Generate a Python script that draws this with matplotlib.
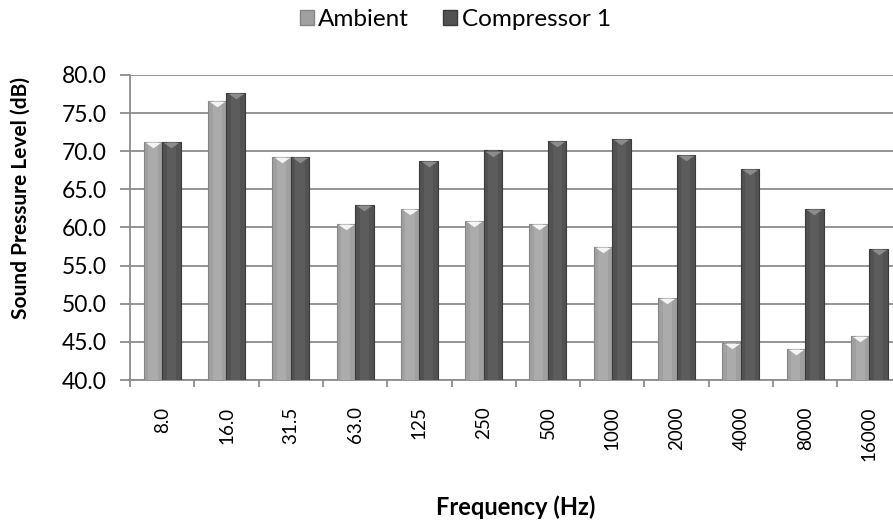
import numpy as np
import matplotlib.pyplot as plt
from matplotlib.patches import Patch

plt.rcParams['font.family'] = ['Lato', 'DejaVu Sans']

freq_labels = ['8.0', '16.0', '31.5', '63.0', '125', '250', '500',
               '1000', '2000', '4000', '8000', '16000']
ambient = [71.2, 76.6, 69.2, 60.4, 62.4, 60.8, 60.5, 57.5, 50.8, 44.9, 44.1, 45.8]
compressor = [71.2, 77.7, 69.3, 62.9, 68.7, 70.1, 71.4, 71.6, 69.5, 67.7, 62.4, 57.2]

AMB_COLOR = '#a0a0a0'
CMP_COLOR = '#525252'
GRID_COLOR = '#8c8c8c'

fig = plt.figure(figsize=(8.93, 5.24), dpi=100)
# plot area runs slightly past the right edge, as in the reference
ax = fig.add_axes([0.1456, 0.2748, 0.8640, 0.5821])

x = np.arange(len(freq_labels))
w = 0.288
amb = np.array(ambient)
cmp_ = np.array(compressor)
ax.bar(x - w / 2, amb - 40, w, bottom=40, color=AMB_COLOR,
       edgecolor='#858585', linewidth=0.8, zorder=3)
ax.bar(x + w / 2, cmp_ - 40, w, bottom=40, color=CMP_COLOR,
       edgecolor='#3a3a3a', linewidth=0.8, zorder=3)
# soft highlight down the middle of each bar
ax.bar(x - w / 2, amb - 40, w * 0.5, bottom=40, color='#ababab',
       linewidth=0, zorder=3.5)
ax.bar(x + w / 2, cmp_ - 40, w * 0.5, bottom=40, color='#5c5c5c',
       linewidth=0, zorder=3.5)
# bevel triangles on top of bars
tri = [(-1, 0.35), (1, 0.35), (0, -0.35), (-1, 0.35)]
ax.scatter(x - w / 2, amb - 0.4, marker=tri, s=130,
           color='#f4f4f4', zorder=4, linewidths=0)
ax.scatter(x + w / 2, cmp_ - 0.4, marker=tri, s=130,
           color='#8c8c8c', zorder=4, linewidths=0)

ax.set_xlim(-0.5, len(freq_labels) - 0.5)
ax.set_ylim(40, 80)
yt = np.arange(40, 80.1, 5)
ax.set_yticks(yt)
ax.set_yticklabels([f'{v:.1f}' for v in yt], fontsize=16.5)
ax.yaxis.grid(True, color=GRID_COLOR, linewidth=1.3, zorder=0)
ax.set_axisbelow(True)

ax.set_xticks(x)
ax.set_xticklabels(freq_labels, rotation=90, fontsize=13.5, va='top')
ax.tick_params(axis='x', which='major', length=0, pad=19)
ax.set_xticks(np.arange(-0.5, len(freq_labels), 1), minor=True)
ax.tick_params(axis='x', which='minor', length=5, color=GRID_COLOR, width=1.3)
ax.tick_params(axis='y', length=7, color=GRID_COLOR, width=1.3, pad=10)

for side in ['top', 'right']:
    ax.spines[side].set_visible(False)
for side in ['left', 'bottom']:
    ax.spines[side].set_color(GRID_COLOR)
    ax.spines[side].set_linewidth(1.3)

fig.text(0.0235, 0.622, 'Sound Pressure Level (dB)', fontsize=15,
         fontweight='bold', rotation=90, ha='center', va='center')
fig.text(0.578, 0.033, 'Frequency (Hz)', fontsize=17, fontweight='bold',
         ha='center', va='center')

handles = [Patch(facecolor=AMB_COLOR, edgecolor='#858585', label='Ambient'),
           Patch(facecolor=CMP_COLOR, edgecolor='#3a3a3a', label='Compressor 1')]
fig.legend(handles=handles, loc='center', bbox_to_anchor=(0.51, 0.962), ncol=2,
           frameon=False, fontsize=17.5, handlelength=0.55, handleheight=0.55,
           handletextpad=0.2, columnspacing=1.4)

fig.savefig('out.png', dpi=100)
